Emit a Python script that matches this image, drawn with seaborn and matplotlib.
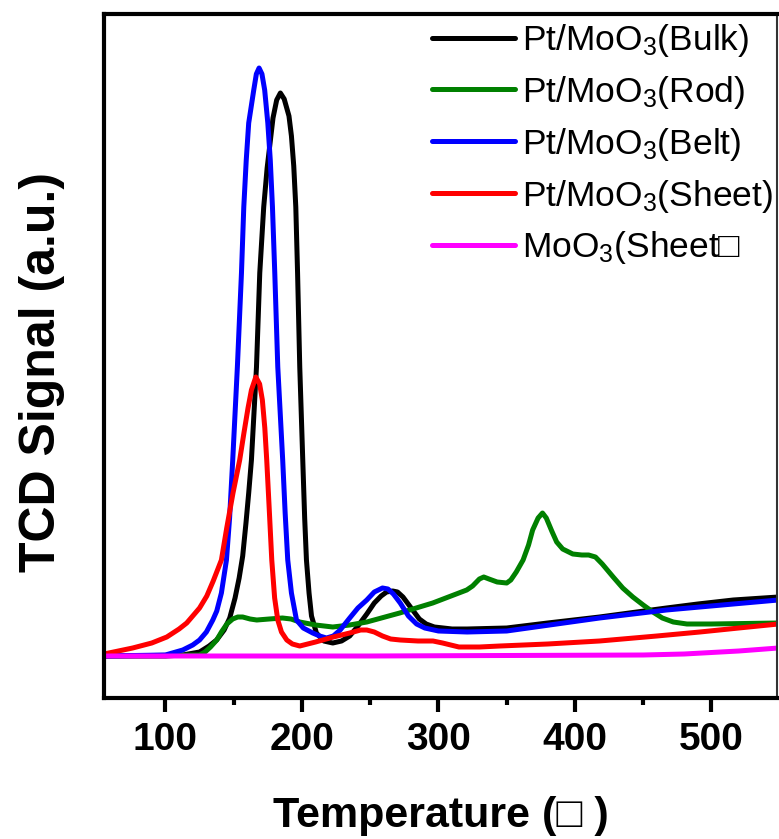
import numpy as np
import pandas as pd
import matplotlib
matplotlib.use("Agg")
import matplotlib.pyplot as plt
import seaborn as sns
from matplotlib.ticker import MultipleLocator
from matplotlib.lines import Line2D

# ---- data ----
bulk_T = [55, 100, 112.7, 125, 132, 137.5, 143, 147.1, 151, 154, 156.6, 159, 161, 163.0, 166.7,
          169.1, 172.0, 174.5, 176.4, 178.8, 181.5, 184.2, 187, 190.5, 192.3, 194, 195.5, 196.8,
          198.4, 200.6, 202, 203.3, 205.2, 207.0, 210.6, 216, 222.6, 229, 235, 241, 247.5, 253,
          258, 262, 266.5, 270, 274, 280, 286, 291, 297, 310, 321, 350, 380, 418, 467, 490, 516, 549]
bulk_S = [0.42, 0.42, 0.43, 0.46, 0.52, 0.58, 0.68, 0.80, 1.00, 1.20, 1.42, 1.75, 2.05, 2.38, 3.31,
          4.25, 4.91, 5.30, 5.52, 5.80, 5.98, 6.05, 5.99, 5.82, 5.62, 5.32, 4.91, 4.25,
          3.31, 2.38, 1.80, 1.38, 1.05, 0.82, 0.65, 0.57, 0.55, 0.57, 0.62, 0.72, 0.84, 0.95,
          1.02, 1.06, 1.07, 1.06, 1.01, 0.90, 0.79, 0.74, 0.71, 0.69, 0.69, 0.70, 0.75, 0.81, 0.90,
          0.94, 0.98, 1.01]

rod_T = [55, 125, 129, 133, 137.6, 141, 145, 149.3, 153, 156.6, 162, 166.9, 176, 185.7, 192, 198.4,
         210, 222.6, 235, 247.5, 271.6, 295.8, 320.7, 325, 330, 333.2, 337, 343, 350, 353, 357, 362,
         366, 369, 373, 376.2, 379, 383, 386.6, 391, 398.4, 405, 410, 415, 420, 428, 435, 442.4,
         450, 457.1, 464, 472, 482, 500, 549]
rod_S = [0.42, 0.43, 0.46, 0.51, 0.58, 0.66, 0.74, 0.79, 0.81, 0.81, 0.79, 0.78, 0.79, 0.80, 0.79,
         0.76, 0.73, 0.71, 0.73, 0.76, 0.85, 0.95, 1.08, 1.12, 1.19, 1.21, 1.19, 1.16, 1.15, 1.18,
         1.26, 1.38, 1.53, 1.68, 1.80, 1.85, 1.80, 1.67, 1.56, 1.49, 1.44, 1.43, 1.43, 1.41, 1.34,
         1.21, 1.10, 1.01, 0.93, 0.86, 0.80, 0.76, 0.74, 0.74, 0.75]

belt_T = [55, 100, 112.7, 120, 125, 130, 134.7, 137.6, 141, 144.7, 147, 149.3, 152.7, 155.7, 157.4,
          159.2, 161, 164.7, 166.6, 168.6, 170.7, 172.7, 175, 176.8, 178.4, 180.1, 182.3, 185.9,
          187.7, 189.6, 192.3, 196, 201, 207.9, 213, 218, 223, 228, 235, 241, 247.5, 253, 259, 263,
          267, 272, 278, 284, 290, 300, 321, 350, 418, 467, 516, 549]
belt_S = [0.42, 0.43, 0.48, 0.53, 0.58, 0.66, 0.78, 0.87, 1.05, 1.38, 1.80, 2.38, 3.31, 4.25, 4.91,
          5.38, 5.75, 6.08, 6.24, 6.30, 6.24, 6.08, 5.75, 5.38, 4.91, 4.25, 3.31, 2.38,
          1.85, 1.38, 1.05, 0.78, 0.70, 0.65, 0.62, 0.60, 0.62, 0.68, 0.80, 0.90, 0.98, 1.06, 1.10,
          1.09, 1.04, 0.95, 0.82, 0.74, 0.70, 0.67, 0.66, 0.67, 0.80, 0.88, 0.94, 0.98]

sheet_T = [55, 76, 90, 101, 110, 115.6, 120, 125, 130.3, 135, 141, 144.9, 149.5, 154.4, 157.5,
           160.5, 163, 166.2, 169, 171, 172.8, 174.2, 176, 177.9, 180, 182.3, 185, 188.9, 193,
           198.4, 210, 223, 235, 243, 247.5, 253, 259, 265, 272, 285, 296, 303, 309, 315, 330, 345,
           380, 418, 460, 491.5, 520, 549]
sheet_S = [0.44, 0.50, 0.55, 0.61, 0.69, 0.75, 0.82, 0.90, 1.02, 1.17, 1.38, 1.70, 2.05, 2.38, 2.65,
           2.90, 3.08, 3.21, 3.14, 2.98, 2.70, 2.38, 1.90, 1.38, 1.00, 0.78, 0.66, 0.58, 0.54,
           0.52, 0.56, 0.61, 0.65, 0.68, 0.68, 0.66, 0.62, 0.59, 0.58, 0.57, 0.57, 0.55, 0.53, 0.51,
           0.51, 0.52, 0.54, 0.57, 0.62, 0.66, 0.70, 0.74]

moo3_T = [55, 150, 250, 350, 450, 480, 520, 549]
moo3_S = [0.42, 0.42, 0.42, 0.425, 0.43, 0.44, 0.47, 0.50]

labels = ["Pt/MoO$_\\mathregular{3}$(Bulk)", "Pt/MoO$_\\mathregular{3}$(Rod)",
          "Pt/MoO$_\\mathregular{3}$(Belt)", "Pt/MoO$_\\mathregular{3}$(Sheet)",
          "MoO$_\\mathregular{3}$(Sheet\u25a1"]
colors = ["#000000", "#008000", "#0000ff", "#ff0000", "#ff00ff"]
series = [(bulk_T, bulk_S), (rod_T, rod_S), (belt_T, belt_S), (sheet_T, sheet_S), (moo3_T, moo3_S)]

xticks = [100, 200, 300, 400, 500]

# ---- style ----
sns.set_theme(style="ticks")
plt.rcParams["font.family"] = ["Liberation Sans", "DejaVu Sans"]
plt.rcParams["mathtext.fontset"] = "custom"
plt.rcParams["mathtext.rm"] = "Liberation Sans"
plt.rcParams["mathtext.it"] = "Liberation Sans:italic"
plt.rcParams["mathtext.bf"] = "Liberation Sans:bold"
plt.rcParams["text.color"] = "black"
plt.rcParams["axes.labelcolor"] = "black"
plt.rcParams["xtick.color"] = "black"
plt.rcParams["xtick.labelcolor"] = "black"

W, H = 779, 839
fig = plt.figure(figsize=(W / 100, H / 100), dpi=100)
ax = fig.add_axes([104 / W, 1 - 698 / H, 673 / W, 684 / H])

frames = []
for (T, S), lab in zip(series, labels):
    frames.append(pd.DataFrame({"T": T, "S": S, "sample": lab}))
df = pd.concat(frames, ignore_index=True)

for lab, col in zip(labels, colors):
    sub = df[df["sample"] == lab]
    sns.lineplot(data=sub, x="T", y="S", ax=ax, color=col, lw=3.6, sort=False,
                 estimator=None, legend=False)
for ln in ax.get_lines():
    ln.set_solid_joinstyle("round")
    ln.set_solid_capstyle("round")

ax.set_xlim(55, 548)
ax.set_ylim(0, 6.84)
ax.set_xticks(xticks)
ax.xaxis.set_minor_locator(MultipleLocator(50))
ax.set_yticks([])
ax.set_xlabel("")
ax.set_ylabel("")

for side in ["left", "bottom", "top"]:
    ax.spines[side].set_linewidth(3)
    ax.spines[side].set_color("black")
ax.spines["right"].set_linewidth(1.5)
ax.spines["right"].set_color("#333333")

ax.tick_params(axis="x", which="major", direction="out", length=10, width=3, pad=7,
               labelsize=28, colors="black")
ax.tick_params(axis="x", which="minor", direction="out", length=5, width=3, colors="black")
for t in ax.get_xticklabels():
    t.set_fontweight("bold")
    t.set_color("black")

fig.text(441 / W, 1 - 827 / H, "Temperature (\u25a1 )", ha="center", va="baseline",
         fontsize=31, fontweight="bold", color="black")
fig.text(55 / W, 1 - 372 / H, "TCD Signal (a.u.)", ha="center", va="baseline",
         rotation=90, rotation_mode="anchor", fontsize=36, fontweight="bold", color="black")

handles = [Line2D([0], [0], color=c, lw=3.6) for c in colors]
leg = ax.legend(handles, labels, loc="upper left", bbox_to_anchor=(432 / W, 1 - 22 / H),
                bbox_transform=fig.transFigure, frameon=False, fontsize=25.5,
                handlelength=2.35, handletextpad=0.2, labelspacing=0.42,
                borderpad=0, borderaxespad=0)
for t in leg.get_texts():
    t.set_color("black")

fig.savefig("out.png", dpi=100)
